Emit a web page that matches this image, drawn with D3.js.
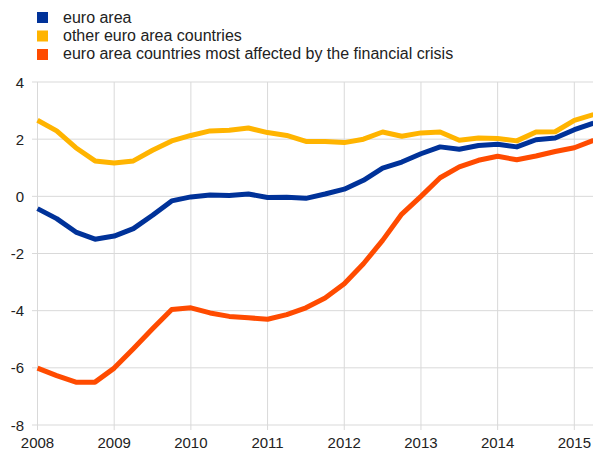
<!DOCTYPE html>
<html>
<head>
<meta charset="utf-8">
<script src="https://cdn.jsdelivr.net/npm/d3@7"></script>
<style>
  body { margin: 0; background: #fff; }
  svg { font-family: "Liberation Sans", Arial, sans-serif; }
</style>
</head>
<body>
<div id="main"><svg width="593" height="450"></svg></div>
<script>
// Quarterly data, 2008Q1 - 2015Q2
var quarters = d3.range(30).map(function(i) { return 2008 + i / 4; });
var euroArea = [-0.43, -0.78, -1.25, -1.5, -1.39, -1.13, -0.66, -0.16, -0.02,
    0.05, 0.03, 0.08, -0.04, -0.03, -0.07, 0.08, 0.25, 0.56, 0.99, 1.2,
    1.49, 1.73, 1.65, 1.78, 1.82, 1.73, 1.98, 2.04, 2.33, 2.56];
var otherCountries = [2.66, 2.29, 1.70, 1.24, 1.17, 1.24, 1.61, 1.94, 2.13,
    2.29, 2.31, 2.39, 2.23, 2.13, 1.92, 1.92, 1.88, 2.0, 2.25, 2.1,
    2.22, 2.25, 1.96, 2.04, 2.02, 1.94, 2.25, 2.26, 2.66, 2.86];
var mostAffected = [-6.01, -6.27, -6.5, -6.5, -6.01, -5.33, -4.63, -3.96, -3.9,
    -4.08, -4.2, -4.25, -4.3, -4.14, -3.9, -3.56, -3.06, -2.36, -1.54, -0.62,
    0.0, 0.65, 1.03, 1.26, 1.4, 1.28, 1.41, 1.57, 1.7, 1.96];
var seriesNames = ["euro area", "other euro area countries", "euro area countries most affected by the financial crisis"];
var yTicks = [-8, -6, -4, -2, 0, 2, 4];
var xTicks = [2008, 2009, 2010, 2011, 2012, 2013, 2014, 2015];

var colors = ["#003299", "#ffb400", "#ff4b00"];
var series = [euroArea, otherCountries, mostAffected];

var svg = d3.select("#main").select("svg");

var xScale = d3.scaleLinear().domain([2008, 2015.25]).range([37.5, 593.5]);
var yScale = d3.scaleLinear().domain([-8, 4]).range([425, 82]);

// Grid lines
var grid = svg.append("g").attr("class", "grid");
grid.selectAll("line.h")
    .data(yTicks)
    .enter().append("line")
    .attr("x1", 32).attr("x2", 593)
    .attr("y1", function(d) { return yScale(d); })
    .attr("y2", function(d) { return yScale(d); })
    .attr("stroke", "#d9d9d9").attr("stroke-width", 1);
grid.selectAll("line.v")
    .data(xTicks)
    .enter().append("line")
    .attr("x1", function(d) { return xScale(d); })
    .attr("x2", function(d) { return xScale(d); })
    .attr("y1", 82).attr("y2", 430)
    .attr("stroke", "#d9d9d9").attr("stroke-width", 1);

// Axis labels
svg.append("g").selectAll("text")
    .data(yTicks)
    .enter().append("text")
    .attr("x", 24)
    .attr("y", function(d) { return yScale(d) + 5.5; })
    .attr("text-anchor", "end")
    .attr("font-size", 15)
    .attr("fill", "#222")
    .text(function(d) { return d; });

svg.append("g").selectAll("text")
    .data(xTicks)
    .enter().append("text")
    .attr("x", function(d) { return xScale(d); })
    .attr("y", 448)
    .attr("text-anchor", "middle")
    .attr("font-size", 15)
    .attr("fill", "#222")
    .text(function(d) { return d; });

// Lines
var line = d3.line()
    .x(function(d, i) { return xScale(quarters[i]); })
    .y(function(d) { return yScale(d); });

series.forEach(function(s, k) {
    svg.append("path")
        .datum(s)
        .attr("d", line)
        .attr("fill", "none")
        .attr("stroke", colors[k])
        .attr("stroke-width", 5)
        .attr("stroke-linejoin", "round");
});

// Legend
var legend = svg.append("g").attr("class", "legend");
seriesNames.forEach(function(name, k) {
    legend.append("rect")
        .attr("x", 37).attr("y", 12 + k * 18.5)
        .attr("width", 11).attr("height", 11)
        .attr("fill", colors[k]);
    legend.append("text")
        .attr("x", 63).attr("y", 22.5 + k * 18.3)
        .attr("font-size", 16)
        .attr("fill", "#222")
        .text(name);
});
</script>
</body>
</html>
